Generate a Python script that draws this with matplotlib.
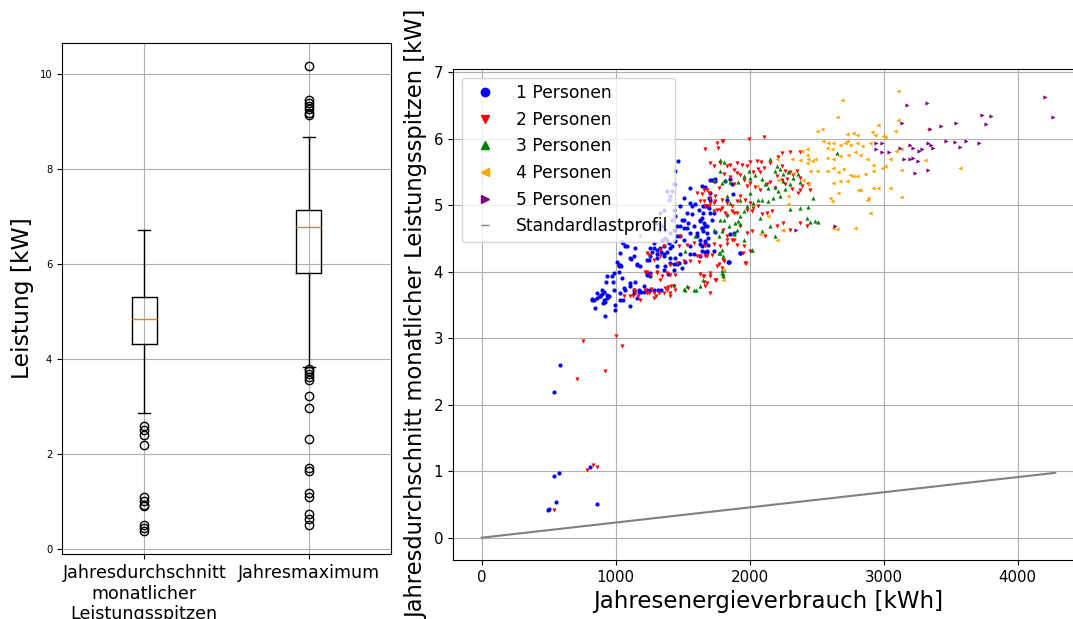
import matplotlib
matplotlib.use('Agg')
import matplotlib.pyplot as plt
from matplotlib.lines import Line2D
import numpy as np

# Boxplot-Kennwerte [kW]
box_labels = ['Jahresdurchschnitt\nmonatlicher\nLeistungsspitzen', 'Jahresmaximum']
box_med = [4.85, 6.77]
box_q1 = [4.31, 5.81]
box_q3 = [5.30, 7.13]
box_whislo = [2.86, 3.84]
box_whishi = [6.72, 8.67]
fliers_avg = [2.60, 2.50, 2.41, 2.19, 1.10, 1.02, 0.94, 0.91, 0.52, 0.44, 0.39]
fliers_max = [10.16, 9.46, 9.39, 9.33, 9.26, 9.18, 9.13,
              3.80, 3.75, 3.69, 3.62, 3.57, 3.23, 2.98, 2.31,
              1.70, 1.64, 1.18, 1.10, 0.75, 0.63, 0.52]

# Jahresenergieverbrauch [kWh], Jahresdurchschnitt monatlicher Spitzen [kW]
pers1 = np.array([
    [501, 0.43], [494, 0.42], [551, 0.53], [861, 0.51], [541, 0.92], [576, 0.98],
    [811, 1.07], [541, 2.19], [586, 2.60], [921, 3.34], [849, 3.45], [824, 3.57],
    [841, 3.57], [861, 3.60], [886, 3.63], [898, 3.67], [911, 3.58], [923, 3.55],
    [936, 3.60], [948, 3.64], [916, 3.69], [906, 3.53], [973, 3.93], [980, 3.84],
    [998, 3.50], [993, 3.43], [1022, 4.10], [1022, 4.00], [1040, 4.08], [1047, 3.90],
    [1060, 3.75], [1072, 3.72], [1035, 3.58], [1052, 3.58], [1109, 3.48], [1117, 4.19],
    [1109, 3.83], [1147, 3.85], [1159, 4.11], [1134, 3.68], [1159, 3.60], [1171, 3.70],
    [1189, 3.70], [1209, 3.70], [1233, 3.73], [1258, 3.72], [1288, 3.73], [1313, 3.72],
    [1338, 3.72], [1233, 4.18], [1253, 4.23], [1271, 4.29], [1308, 4.26], [1338, 4.29],
    [1358, 4.23], [1382, 4.29], [1407, 4.20], [1432, 4.12], [1457, 4.11], [1233, 3.95],
    [1258, 3.98], [1358, 4.03], [1387, 3.97], [1556, 4.27], [1643, 4.31], [1680, 4.29],
    [1849, 4.14], [1482, 4.26],
    [1048, 4.44], [1085, 4.38], [1035, 4.28], [1010, 4.15], [1023, 4.10], [986, 3.98],
    [936, 3.93], [924, 3.84], [899, 3.73], [861, 3.68], [824, 3.59], [886, 3.63],
    [936, 3.65], [986, 3.73], [1035, 3.68], [1110, 3.78], [1134, 3.73], [1172, 3.73],
    [1209, 3.78], [1259, 3.93], [1234, 3.98], [1184, 4.08], [1134, 4.23], [1246, 4.18],
    [1308, 4.08], [1358, 4.38], [1383, 4.48],
    [1464, 5.66], [1444, 5.51], [1432, 5.31], [1419, 5.21], [1407, 5.13], [1395, 5.08],
    [1382, 5.21], [1357, 4.93], [1333, 4.88], [1308, 4.73], [1345, 4.68], [1370, 4.63],
    [1320, 4.63], [1432, 4.93], [1444, 4.83], [1419, 4.78], [1457, 4.68], [1432, 4.63],
    [1407, 4.58], [1481, 4.98], [1506, 5.11], [1494, 4.78], [1506, 4.66], [1481, 4.53],
    [1531, 4.88], [1543, 4.73], [1568, 4.86], [1581, 4.68], [1556, 4.58], [1593, 5.01],
    [1618, 4.93], [1655, 4.88], [1680, 4.98], [1630, 4.78], [1606, 4.53], [1630, 4.48],
    [1668, 4.46], [1692, 4.51], [1655, 4.61], [1345, 4.48], [1370, 4.51], [1395, 4.43],
    [1419, 4.38], [1333, 4.36], [1283, 4.43], [1258, 4.36], [1308, 4.33], [1072, 4.38],
    [1055, 4.43], [1109, 4.20], [1146, 4.36], [1159, 4.10], [1035, 4.10], [1022, 4.08],
    [1817, 5.36], [1854, 5.39], [1866, 5.31], [1829, 5.08], [1705, 4.88], [1717, 4.78],
    [1668, 4.68],
    [1556, 5.26], [1643, 5.28], [1705, 5.18], [1717, 5.38], [1742, 5.36], [1878, 5.16],
    [1928, 4.28], [1841, 4.15], [1692, 4.40], [1668, 4.30], [1630, 4.41], [1556, 5.03],
    [1568, 4.98], [1655, 4.98], [1630, 4.76], [1643, 4.66], [1680, 4.58], [1605, 4.58],
    [1531, 4.66], [1506, 4.78], [1481, 4.68], [1457, 4.53], [1444, 4.46], [1407, 4.36],
    [1506, 4.48], [1556, 4.38], [1581, 4.26], [1630, 4.23], [1519, 4.15], [1469, 4.13],
    [1407, 4.13], [1370, 4.08], [1432, 4.03], [1494, 4.05], [1444, 4.20], [1357, 4.26],
    [1308, 4.21], [1283, 4.36],
    [1705, 5.38], [1743, 5.39], [1668, 5.27], [1693, 5.11], [1705, 5.08], [1668, 4.98],
    [1693, 4.96], [1730, 4.88], [1643, 4.81], [1656, 4.73], [1681, 4.68], [1643, 4.66],
    [1743, 4.60], [1668, 4.43], [1643, 4.38], [1681, 4.31], [1730, 4.31], [1854, 4.56],
    [1879, 4.58], [1929, 4.28], [1842, 4.14],
])

pers2 = np.array([
    [541, 0.42], [787, 1.02], [829, 1.10], [861, 1.07], [710, 2.39], [754, 2.96],
    [921, 2.50], [1047, 2.88], [1005, 3.03], [1060, 3.64], [1129, 3.64], [1147, 3.69],
    [1166, 3.63], [1221, 3.99], [1246, 3.68], [1263, 3.74], [1283, 3.68], [1303, 3.64],
    [1328, 3.88], [1370, 3.75], [1387, 3.77], [1412, 3.79], [1407, 3.64], [1506, 4.16],
    [1536, 3.75], [1556, 4.16], [1606, 4.23], [1618, 4.14], [1631, 3.97], [1660, 3.94],
    [1668, 3.79], [1680, 3.83], [1705, 3.68], [1668, 4.23], [1747, 3.88], [1772, 4.11],
    [1797, 4.17], [1971, 4.13], [1948, 4.28],
    [1234, 4.28], [1283, 4.18], [1308, 4.00], [1333, 4.23], [1345, 3.93], [1383, 3.98],
    [1407, 4.10], [1445, 3.73], [1457, 4.13], [1432, 3.78], [1383, 3.73], [1358, 3.68],
    [1321, 3.68], [1234, 3.68], [1221, 3.73], [1134, 3.73], [1110, 3.63], [1184, 3.58],
    [1283, 3.60], [1407, 3.68],
    [1754, 5.94], [1792, 5.96], [1668, 5.84], [1767, 5.86], [1705, 5.64], [1730, 5.59],
    [1779, 5.64], [1829, 5.59], [1854, 5.61], [1879, 5.53], [1903, 5.48], [1606, 5.18],
    [1643, 5.16], [1680, 5.23], [1705, 5.11], [1730, 5.03], [1754, 4.93], [1792, 4.96],
    [1817, 4.88], [1866, 4.91], [1903, 4.88], [1630, 5.06], [1668, 4.98], [1705, 5.03],
    [1742, 5.06], [1829, 4.53], [1866, 4.48], [1903, 4.40], [1804, 4.63], [1668, 4.38],
    [1630, 4.23], [1581, 4.43], [1531, 4.40], [1481, 4.53], [1469, 4.38], [1357, 4.38],
    [1333, 4.33], [1245, 4.25], [1184, 4.53], [1233, 4.00], [1258, 3.95], [1308, 3.98],
    [1407, 3.95], [1444, 3.95], [1655, 3.93], [1705, 3.93], [1717, 4.25], [1680, 4.23],
    [1829, 4.48],
    [2108, 6.02], [1991, 6.00], [1800, 5.97], [2301, 5.80], [2376, 5.80], [2239, 5.78],
    [2053, 5.67], [2083, 5.65], [2214, 5.73], [2152, 5.64], [2003, 5.65], [1978, 5.59],
    [1904, 5.64], [1941, 5.61], [2065, 5.54], [2103, 5.56], [2028, 5.49], [2073, 5.50],
    [2239, 5.59], [2264, 5.51], [2301, 5.49], [2326, 5.45], [2351, 5.51], [2376, 5.41],
    [2450, 5.23], [2438, 5.31], [1805, 5.46], [1854, 5.42], [1929, 5.45], [1879, 5.31],
    [1954, 5.38], [1978, 5.28], [2003, 5.33], [2041, 5.27], [2078, 5.23], [2127, 5.31],
    [2152, 5.35], [2189, 5.26], [2202, 5.43], [2239, 5.37], [2264, 5.31], [2276, 5.39],
    [2314, 5.24], [2363, 5.18], [2388, 5.28], [1730, 5.34], [1768, 5.26], [1656, 5.23],
    [1693, 5.18], [1743, 5.13], [1792, 5.08], [1830, 5.03], [1867, 4.98], [1904, 5.06],
    [1929, 5.13], [1966, 5.08], [2003, 5.03], [2028, 4.96], [2065, 4.98], [1978, 4.93],
    [2016, 4.91], [2090, 4.86], [2127, 4.88], [2165, 4.91], [1879, 4.88], [1830, 4.83],
    [1780, 4.93], [1730, 4.91], [1693, 4.98], [1656, 5.06], [1929, 4.68], [1978, 4.58],
    [2016, 4.61], [1879, 4.48], [1780, 4.38], [1730, 4.41], [1830, 4.41], [1954, 4.38],
    [2003, 4.31], [2115, 4.53], [2202, 4.68], [2252, 4.73], [2301, 4.63], [2376, 4.73],
    [2425, 4.68], [1805, 4.16], [1755, 4.08], [1966, 4.13], [1705, 3.98], [1656, 3.85],
    [1743, 3.88], [1792, 4.05], [2376, 5.23],
])

pers3 = np.array([
    [1506, 3.74], [1516, 4.31], [1598, 3.73], [1655, 3.87], [1774, 4.28], [1799, 3.97],
    [2020, 4.32],
    [1730, 5.38], [1792, 5.33], [1829, 5.13], [1730, 4.63], [1779, 4.78], [1829, 4.86],
    [1891, 4.73], [1903, 4.63], [1928, 4.71], [1879, 4.56], [1792, 4.33], [1804, 4.23],
    [1432, 3.80], [1531, 3.78], [1630, 3.78], [1792, 4.03], [1804, 3.93],
    [1780, 5.68], [1810, 5.65], [2152, 5.70], [1991, 5.51], [2189, 5.51], [2202, 5.59],
    [2227, 5.54], [2252, 5.46], [2289, 5.50], [2326, 5.41], [2363, 5.47], [2376, 5.34],
    [2301, 5.31], [2252, 5.36], [1780, 5.51], [1817, 5.37], [1854, 5.34], [1916, 5.35],
    [1954, 5.43], [2003, 5.40], [2041, 5.45], [2090, 5.39], [2115, 5.31], [2140, 5.26],
    [2189, 5.27], [2214, 5.21], [2227, 5.13], [2264, 5.24], [2177, 5.11], [2140, 5.06],
    [2090, 5.08], [2028, 5.03], [1978, 4.98], [1954, 4.91], [1929, 4.83], [1916, 4.76],
    [1842, 4.68], [1792, 4.61], [1768, 4.53], [1805, 4.78], [2078, 4.81], [2152, 4.68],
    [2065, 5.08], [2003, 5.18], [1929, 5.08], [1854, 5.03], [2425, 4.81], [2475, 5.11],
    [2450, 4.74], [2487, 4.76], [2512, 4.75], [2301, 4.94], [2376, 4.96], [2438, 4.97],
    [2649, 5.79], [2189, 4.53], [2090, 4.61], [1954, 4.48], [1879, 4.58], [1780, 4.28],
    [1805, 4.03], [1792, 3.98],
    [1519, 3.73], [1581, 3.73], [1594, 4.53], [2015, 4.33],
])

pers4 = np.array([
    [1804, 4.03], [1804, 3.87], [2686, 6.58], [2649, 6.32], [3108, 6.28], [2500, 6.12],
    [2537, 6.15], [2723, 6.07], [2773, 6.09], [2798, 6.06], [2909, 6.10], [2934, 6.05],
    [2959, 6.20], [3009, 6.03], [2549, 5.96], [2587, 5.94], [2624, 5.93], [2673, 5.91],
    [2711, 5.94], [2723, 5.96], [2748, 5.91], [2798, 5.94], [2835, 5.89], [2897, 5.94],
    [2574, 5.86], [2612, 5.84], [2462, 5.66], [2425, 5.64], [2487, 5.70], [2574, 5.71],
    [2624, 5.69], [2673, 5.74], [2735, 5.76], [2785, 5.80], [2822, 5.75], [2872, 5.69],
    [2922, 5.61], [3009, 5.59], [3046, 5.70], [3095, 5.81], [2450, 5.51], [2500, 5.51],
    [2574, 5.51], [2624, 5.56], [2661, 5.49], [2698, 5.54], [2748, 5.45], [2798, 5.44],
    [2860, 5.46], [2922, 5.51], [2984, 5.56], [2400, 5.38], [2438, 5.32], [2624, 5.33],
    [2673, 5.36], [2723, 5.36], [2773, 5.43], [2922, 5.26], [2959, 5.26], [2810, 5.22],
    [2822, 5.22], [2661, 5.18], [2599, 5.11], [2612, 5.06], [2872, 5.08], [2884, 5.11],
    [3046, 5.26], [2053, 5.28], [2140, 4.83], [2078, 4.56], [2202, 4.48], [2239, 4.63],
    [2897, 4.88], [2624, 4.66], [2649, 4.64], [2785, 4.66], [2289, 5.01], [2202, 5.69],
    [2314, 5.70], [2425, 5.76], [2214, 5.38],
    [3107, 6.71], [3087, 6.12], [3330, 6.14], [3132, 5.84], [3132, 5.53], [3306, 5.68],
    [3566, 5.56], [3132, 5.12], [2995, 6.04], [2425, 5.84], [2387, 5.82], [2251, 4.62],
    [2288, 5.14], [2375, 5.68], [2437, 5.69], [2320, 5.48],
])

pers5 = np.array([
    [4207, 6.63], [4266, 6.32], [3174, 6.51], [3323, 6.53], [3735, 6.36], [3802, 6.34],
    [3765, 6.22], [3137, 6.24], [3343, 6.15], [3430, 6.19], [3541, 6.24], [3467, 5.97],
    [3529, 5.95], [3566, 5.88], [3616, 5.96], [3710, 5.93], [2946, 5.94], [2988, 5.93],
    [2946, 5.85], [2988, 5.80], [3040, 5.80], [3125, 5.86], [3194, 5.91], [3219, 5.86],
    [3263, 5.81], [3288, 5.85], [3330, 5.93], [3355, 5.90], [3368, 5.86], [3149, 5.70],
    [3199, 5.70], [3219, 5.71], [3256, 5.67], [3330, 5.52], [3231, 5.48], [2636, 4.68],
    [2343, 4.62],
])

# Standardlastprofil (linear)
slp_x = [0, 4280]
slp_y = [0, 0.975]

groups = [pers1, pers2, pers3, pers4, pers5]
group_labels = ['1 Personen', '2 Personen', '3 Personen', '4 Personen', '5 Personen']
group_markers = ['o', 'v', '^', '<', '>']
group_colors = ['blue', 'red', 'green', 'orange', 'purple']

fig = plt.figure(figsize=(10.73, 6.19), dpi=100)

# --- Boxplot ---
ax1 = fig.add_axes([0.0578, 0.105, 0.3066, 0.8255])
stats = []
for i, fl in enumerate([fliers_avg, fliers_max]):
    stats.append(dict(
        med=box_med[i], q1=box_q1[i], q3=box_q3[i],
        whislo=box_whislo[i], whishi=box_whishi[i],
        fliers=fl, label=box_labels[i],
    ))
ax1.bxp(stats, positions=[1, 2])
ax1.grid(True)
ax1.set_axisbelow(True)
ax1.tick_params(axis='y', labelsize=7.2)
ax1.tick_params(axis='x', labelsize=12.6)
ax1.set_ylabel('Leistung [kW]', fontsize=16.8)

# --- Streudiagramm ---
ax2 = fig.add_axes([0.4222, 0.0953, 0.588, 0.7932])
for data, m, c, lbl in zip(groups, group_markers, group_colors, group_labels):
    ax2.scatter(data[:, 0], data[:, 1], s=9, marker=m, color=c,
                linewidths=0, label=lbl)
ax2.plot(slp_x, slp_y, color='gray', linewidth=1.5)
ax2.grid(True)
ax2.set_axisbelow(True)
ax2.tick_params(labelsize=10.8)
ax2.set_xlabel('Jahresenergieverbrauch [kWh]', fontsize=16.5)
ax2.set_ylabel('Jahresdurchschnitt monatlicher Leistungsspitzen [kW]', fontsize=16.3)

handles = [Line2D([], [], linestyle='None', marker=m, color=c, markersize=6)
           for m, c in zip(group_markers, group_colors)]
handles.append(Line2D([], [], linestyle='None', marker='_', color='gray',
                      markersize=6))
ax2.legend(handles, group_labels + ['Standardlastprofil'],
           loc='upper left', fontsize=12.3)

fig.savefig('out.png', dpi=100)
